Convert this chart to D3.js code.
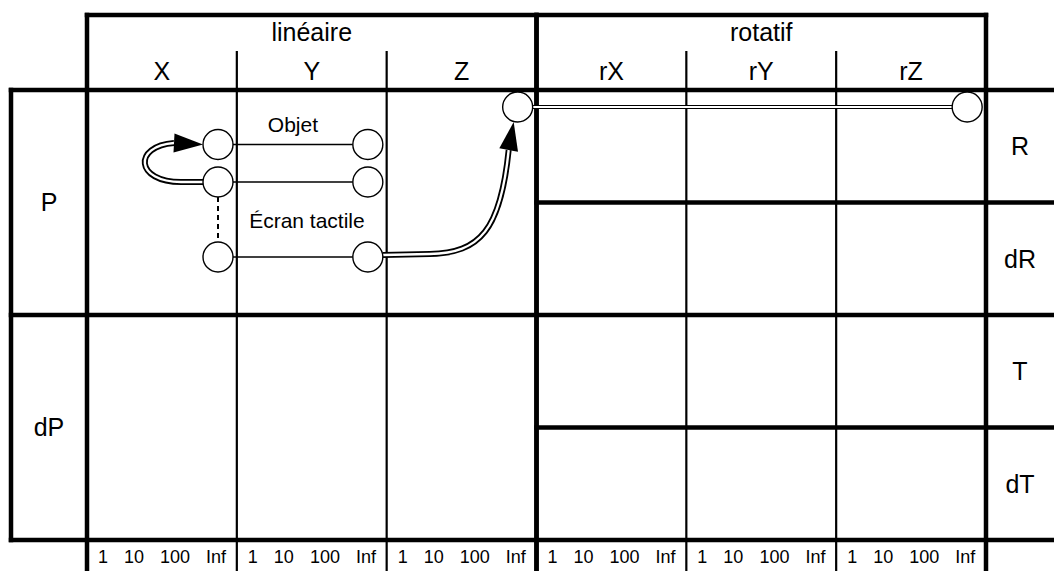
<!DOCTYPE html>
<html><head><meta charset="utf-8">
<script src="https://cdn.jsdelivr.net/npm/d3@7"></script>
<style>body{margin:0;background:#fff}svg{display:block}text{font-family:"Liberation Sans",Arial,sans-serif;fill:#000}</style>
</head><body><svg id="c" width="1054" height="571"></svg>
<script>
// ---- data ----
const groups = ["linéaire", "rotatif"];
const columns = ["X", "Y", "Z", "rX", "rY", "rZ"];
const groupOf = {X: "linéaire", Y: "linéaire", Z: "linéaire", rX: "rotatif", rY: "rotatif", rZ: "rotatif"};
const rows = ["P", "dP"];
const subRows = ["R", "dR", "T", "dT"];
const scaleTicks = ["1", "10", "100", "Inf"];
// device nodes: column, row, level (ordinal slot inside the row), value on the scale
const nodes = [
  {id: "x1", col: "X", row: "P", slot: 1, val: "Inf"},
  {id: "y1", col: "Y", row: "P", slot: 1, val: "Inf"},
  {id: "x2", col: "X", row: "P", slot: 2, val: "Inf"},
  {id: "y2", col: "Y", row: "P", slot: 2, val: "Inf"},
  {id: "x4", col: "X", row: "P", slot: 4, val: "Inf"},
  {id: "y4", col: "Y", row: "P", slot: 4, val: "Inf"},
  {id: "z0", col: "Z", row: "P", slot: 0, val: "Inf"},
  {id: "rz0", col: "rZ", row: "P", slot: 0, val: "Inf"}
];
const links = [
  {from: "x1", to: "y1", label: "Objet", kind: "thin"},
  {from: "x2", to: "y2", label: "", kind: "thin"},
  {from: "x4", to: "y4", label: "Écran tactile", kind: "thin"},
  {from: "z0", to: "rz0", label: "", kind: "double"}
];
const dashed = [{from: "x2", to: "x4"}];
const arrows = [{from: "x2", to: "x1", kind: "loop"}, {from: "y4", to: "z0", kind: "up"}];

// ---- layout ----
const W = 1054, H = 571;
const gridL = 87, gridR = 986, outerL = 11;
const headTop = 15, subHeadTop = 52, gridTop = 90, gridBot = 540;
const svg = d3.select("#c");

const x = d3.scaleBand().domain(columns).range([gridL, gridR]);
const yRow = d3.scaleBand().domain(rows).range([gridTop, gridBot]);
const ySub = d3.scaleBand().domain(subRows).range([gridTop, gridBot]);
const tickX = d3.scalePoint().domain(scaleTicks).range([16, 129]);
const slotY = d3.scaleLinear().domain([0, 4]).range([17, 167]);
const R = 15;

const gx = g => {
  const cols = columns.filter(c => groupOf[c] === g);
  return [x(cols[0]), x(cols[cols.length - 1]) + x.bandwidth()];
};

const thick = 4.5, thin = 2.2;
const L = svg.append("g");
function line(x1, y1, x2, y2, w) {
  L.append("line").attr("x1", x1).attr("y1", y1).attr("x2", x2).attr("y2", y2)
    .attr("stroke", "#000").attr("stroke-width", w).attr("stroke-linecap", "square");
}
// thin column dividers
columns.forEach((c, i) => {
  if (i > 0 && groupOf[c] === groupOf[columns[i - 1]]) line(x(c), subHeadTop, x(c), H, thin);
});
// thick verticals
groups.forEach(g => { const [a, b] = gx(g); line(a, headTop, a, H, thick); line(b, headTop, b, H, thick); });
line(outerL, gridTop, outerL, gridBot, thick);
// horizontal lines
line(gridL, headTop, gridR, headTop, thick);
[gridTop, yRow("dP"), gridBot].forEach(v => line(outerL, v, W, v, thick));
subRows.forEach((s, i) => { if (i % 2 === 1) line(x("rX"), ySub(s), W, ySub(s), thick); });

// header texts
groups.forEach(g => {
  const [a, b] = gx(g);
  svg.append("text").attr("x", (a + b) / 2).attr("y", 41).attr("text-anchor", "middle")
    .attr("font-size", 25).text(g);
});
columns.forEach(c => {
  svg.append("text").attr("x", x(c) + x.bandwidth() / 2).attr("y", 80).attr("text-anchor", "middle")
    .attr("font-size", 25).text(c);
});
rows.forEach(r => {
  svg.append("text").attr("x", (outerL + gridL) / 2).attr("y", yRow(r) + yRow.bandwidth() / 2 + 8)
    .attr("text-anchor", "middle").attr("font-size", 25).text(r);
});
subRows.forEach(s => {
  svg.append("text").attr("x", (gridR + W) / 2).attr("y", ySub(s) + ySub.bandwidth() / 2 + 9)
    .attr("text-anchor", "middle").attr("font-size", 25).text(s);
});
// scale tick labels: laid out like typed text with equal gaps
columns.forEach(c => {
  let cursor = x(c) + 11;
  scaleTicks.forEach(t => {
    const el = svg.append("text").attr("x", cursor).attr("y", 563).attr("font-size", 18).text(t);
    cursor += el.node().getComputedTextLength() + 16;
  });
});

// ---- nodes ----
const pos = {};
nodes.forEach(n => { pos[n.id] = {x: x(n.col) + tickX(n.val) + 2, y: yRow(n.row) + slotY(n.slot)}; });

const M = svg.append("g");
links.forEach(l => {
  const a = pos[l.from], b = pos[l.to];
  if (l.kind === "double") {
    M.append("line").attr("x1", a.x + R).attr("y1", a.y).attr("x2", b.x - R).attr("y2", b.y)
      .attr("stroke", "#000").attr("stroke-width", 4.2);
    M.append("line").attr("x1", a.x + R - 1).attr("y1", a.y).attr("x2", b.x - R + 1).attr("y2", b.y)
      .attr("stroke", "#fff").attr("stroke-width", 2);
  } else {
    M.append("line").attr("x1", a.x + R).attr("y1", a.y).attr("x2", b.x - R).attr("y2", b.y)
      .attr("stroke", "#000").attr("stroke-width", 1.4);
  }
  if (l.label) {
    M.append("text").attr("x", (a.x + b.x) / 2 + (l.label.length > 6 ? 14 : 0)).attr("y", a.y - (l.label.length > 6 ? 29 : 13))
      .attr("text-anchor", "middle").attr("font-size", 21).text(l.label);
  }
});
dashed.forEach(d => {
  const a = pos[d.from], b = pos[d.to];
  M.append("line").attr("x1", a.x).attr("y1", a.y + R).attr("x2", b.x).attr("y2", b.y - R)
    .attr("stroke", "#000").attr("stroke-width", 2).attr("stroke-dasharray", "5,4");
});

function arrowHead(base, tip) {
  const dx = tip[0] - base[0], dy = tip[1] - base[1], len = Math.hypot(dx, dy);
  const px = -dy / len * 9.5, py = dx / len * 9.5;
  M.append("path").attr("d", `M${tip[0]},${tip[1]}L${base[0] + px},${base[1] + py}L${base[0] - px},${base[1] - py}Z`)
    .attr("fill", "#000");
}
arrows.forEach(ar => {
  const a = pos[ar.from], b = pos[ar.to];
  let d, base, tip;
  if (ar.kind === "loop") {
    const s = [a.x - R, a.y], e = [b.x - R, b.y];
    base = [e[0] - 29, e[1] - 1.5]; tip = [e[0], e[1]];
    d = `M${s[0]},${s[1]}L${s[0] - 22},${s[1]}C${s[0] - 68},${s[1]} ${s[0] - 70},${base[1] + 3} ${base[0]},${base[1]}`;
  } else {
    const s = [a.x + R, a.y - 2], e = [b.x - 4, b.y + R];
    base = [e[0] - 5, e[1] + 28]; tip = e;
    d = `M${s[0]},${s[1]}L${s[0] + 47},${s[1] - 1}C${s[0] + 97},${s[1] - 2} ${base[0] - 8},${s[1] - 25} ${base[0]},${base[1]}`;
  }
  M.append("path").attr("d", d).attr("fill", "none").attr("stroke", "#000").attr("stroke-width", 6);
  M.append("path").attr("d", d).attr("fill", "none").attr("stroke", "#fff").attr("stroke-width", 2.4);
  arrowHead(base, tip);
});
M.selectAll("circle").data(nodes).join("circle")
  .attr("cx", n => pos[n.id].x).attr("cy", n => pos[n.id].y).attr("r", R)
  .attr("fill", "#fff").attr("stroke", "#000").attr("stroke-width", 1.4);
</script></body></html>
